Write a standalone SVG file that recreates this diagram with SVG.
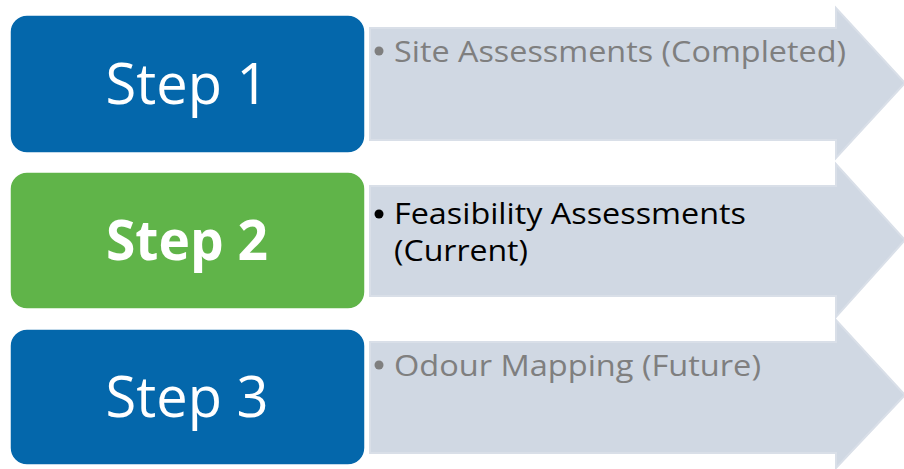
<svg xmlns="http://www.w3.org/2000/svg" width="904" height="469" viewBox="0 0 904 469">
<style>
.arrow{fill:#D0D8E3;stroke:#D9DFE8;stroke-width:2;stroke-linejoin:miter}
.step{stroke:#FFFFFF;stroke-width:1.5}
.blue{fill:#0467AB}
.green{fill:#60B449}
.stxt{font-family:"Open Sans","Liberation Sans",sans-serif;font-size:56px;fill:#FFFFFF;text-anchor:middle}
.btxt{font-family:"Open Sans","Liberation Sans",sans-serif;font-size:30px}
.gray{fill:#7F7F7F}
.black{fill:#000000}
</style>
<rect width="904" height="469" fill="#FFFFFF"/>
<g id="connectors">
<polygon id="arrow1" class="arrow" points="370,28 836,28 836,8 905,83 836,158 836,140 370,140"/>
<polygon id="arrow2" class="arrow" points="370,186 836,186 836,164 905,240 836,317 836,296 370,296"/>
<polygon id="arrow3" class="arrow" points="370,342 836,342 836,320 905,395 836,468 836,453 370,453"/>
</g>
<g id="step1">
<rect class="step blue" x="10" y="15" width="355" height="138" rx="17"/>
<text class="stxt" x="187" y="104">Step 1</text>
</g>
<g id="step2">
<rect class="step green" x="10" y="172" width="355" height="137" rx="17"/>
<text class="stxt" x="187" y="260" font-weight="bold" textLength="162" lengthAdjust="spacingAndGlyphs">Step 2</text>
</g>
<g id="step3">
<rect class="step blue" x="10" y="329" width="355" height="136" rx="17"/>
<text class="stxt" x="187" y="417">Step 3</text>
</g>
<g id="label1">
<circle class="gray" cx="379" cy="51" r="4.5"/>
<text class="btxt gray" x="394" y="62" textLength="452" lengthAdjust="spacingAndGlyphs">Site Assessments (Completed)</text>
</g>
<g id="label2">
<circle class="black" cx="379" cy="214" r="4.5"/>
<text class="btxt black" x="394" y="224" textLength="352" lengthAdjust="spacingAndGlyphs">Feasibility Assessments</text>
<text class="btxt black" x="394" y="261" textLength="134" lengthAdjust="spacingAndGlyphs">(Current)</text>
</g>
<g id="label3">
<circle class="gray" cx="379" cy="365" r="4.5"/>
<text class="btxt gray" x="394" y="376" textLength="367" lengthAdjust="spacingAndGlyphs">Odour Mapping (Future)</text>
</g>
</svg>
